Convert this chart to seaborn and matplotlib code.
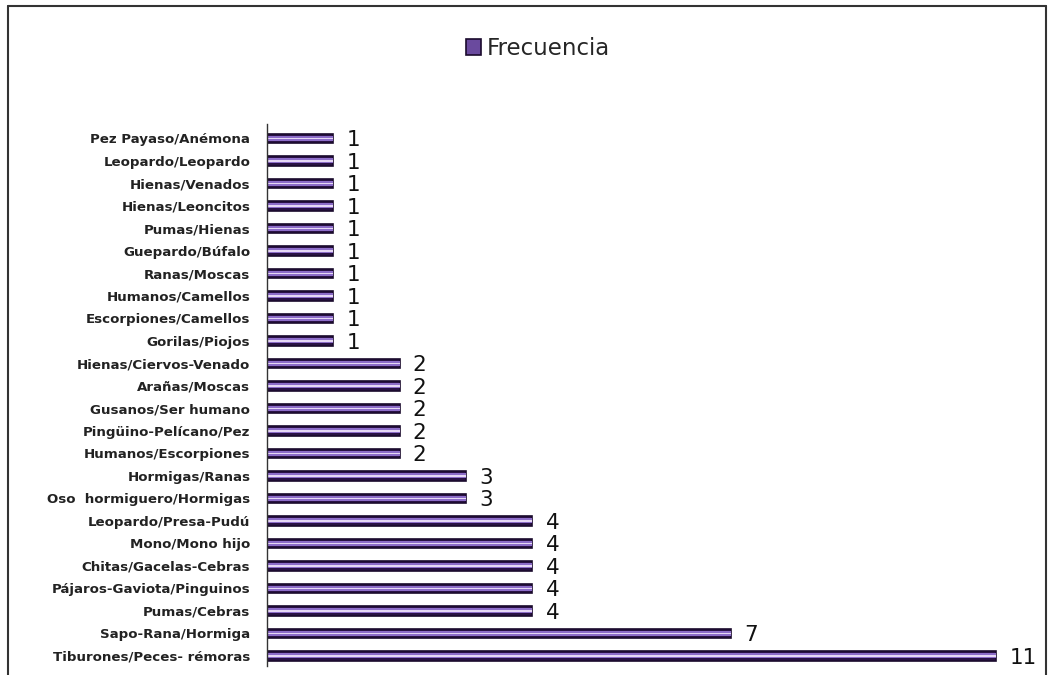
import matplotlib
matplotlib.use("Agg")
import matplotlib.pyplot as plt
import seaborn as sns
import pandas as pd
from matplotlib.patches import Rectangle
from matplotlib.lines import Line2D

# categories top to bottom as shown in the chart
categorias = [
    "Pez Payaso/Anémona", "Leopardo/Leopardo", "Hienas/Venados", "Hienas/Leoncitos",
    "Pumas/Hienas", "Guepardo/Búfalo", "Ranas/Moscas", "Humanos/Camellos",
    "Escorpiones/Camellos", "Gorilas/Piojos", "Hienas/Ciervos-Venado", "Arañas/Moscas",
    "Gusanos/Ser humano", "Pingüino-Pelícano/Pez", "Humanos/Escorpiones", "Hormigas/Ranas",
    "Oso  hormiguero/Hormigas", "Leopardo/Presa-Pudú", "Mono/Mono hijo",
    "Chitas/Gacelas-Cebras", "Pájaros-Gaviota/Pinguinos", "Pumas/Cebras",
    "Sapo-Rana/Hormiga", "Tiburones/Peces- rémoras",
]
frecuencia = [1, 1, 1, 1, 1, 1, 1, 1, 1, 1, 2, 2, 2, 2, 2, 3, 3, 4, 4, 4, 4, 4, 7, 11]

df = pd.DataFrame({"categoria": categorias, "Frecuencia": frecuencia})

sns.set_theme(style="white")
plt.rcParams["font.family"] = ["DejaVu Sans"]

fig = plt.figure(figsize=(10.52, 6.75), dpi=100)
ax = fig.add_axes([0.2538, 0.0133, 0.733, 0.8023])

# dark outline bar
sns.barplot(data=df, y="categoria", x="Frecuencia", orient="h", ax=ax,
            color="#2a1245", width=0.42, saturation=1, edgecolor="#1a0a2c", linewidth=1.2)
# purple body
sns.barplot(data=df, y="categoria", x="Frecuencia", orient="h", ax=ax,
            color="#8c6cc8", width=0.22, saturation=1, linewidth=0)
# light highlight
sns.barplot(data=df, y="categoria", x="Frecuencia", orient="h", ax=ax,
            color="#e6d8f5", width=0.07, saturation=1, linewidth=0)

for i, v in enumerate(frecuencia):
    ax.text(v + 0.2, i + 0.08, str(v), va="center", ha="left", fontsize=15.5,
            color="#111111", family="DejaVu Sans")

ax.set_xlim(0, 11.63)
ax.set_ylim(23.45, -0.62)
ax.set_xlabel("")
ax.set_ylabel("")
ax.set_xticks([])
ax.tick_params(axis="y", length=0, pad=12, labelsize=9.6, labelcolor="#222222")
for lab in ax.get_yticklabels():
    lab.set_fontweight("semibold")
for s in ["top", "right", "bottom"]:
    ax.spines[s].set_visible(False)
ax.spines["left"].set_color("#333333")
ax.spines["left"].set_linewidth(1.0)

# legend
handle = Rectangle((0, 0), 1, 1, facecolor="#6a4a9e", edgecolor="#1a0a2c", linewidth=1.2)
fig.legend([handle], ["Frecuencia"], loc="center", bbox_to_anchor=(0.511, 0.928),
           frameon=False, fontsize=16.5, handlelength=0.65, handleheight=0.65,
           handletextpad=0.25)

# outer border
fig.add_artist(Line2D([0.0075, 0.0075], [0.0, 0.991], color="#333333", lw=1.5))
fig.add_artist(Line2D([0.0075, 0.9945], [0.991, 0.991], color="#333333", lw=1.5))
fig.add_artist(Line2D([0.9945, 0.9945], [0.0, 0.991], color="#333333", lw=1.5))

fig.savefig("out.png", dpi=100, facecolor="white")
